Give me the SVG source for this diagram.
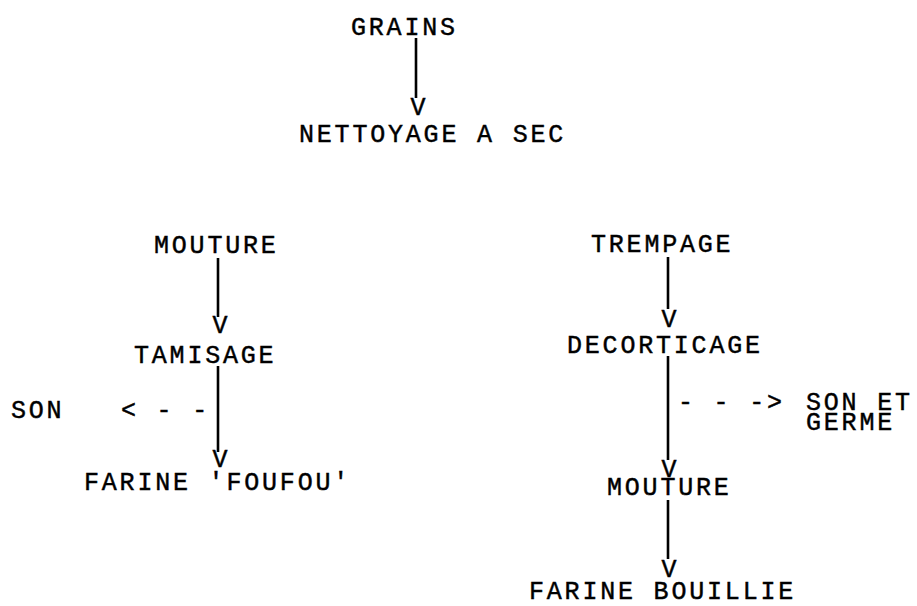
<svg xmlns="http://www.w3.org/2000/svg" width="917" height="606" viewBox="0 0 917 606">
<style>
text{font-family:"Liberation Mono","Courier New",monospace;font-size:25px;letter-spacing:2.8px;fill:#000;stroke:#000;stroke-width:0.45}
.v{text-anchor:middle;letter-spacing:0}
line{stroke:#000;stroke-width:2.6}
</style>
<rect width="917" height="606" fill="#fff"/>
<g id="connectors">
<line x1="416" y1="38" x2="416" y2="98"/>
<text class="v" x="418" y="115">V</text>
<line x1="218" y1="258" x2="218" y2="317"/>
<text class="v" x="220" y="333">V</text>
<line x1="218" y1="366" x2="218" y2="452"/>
<text class="v" x="220" y="467">V</text>
<text x="121" y="418">&lt; - -</text>
<line x1="668" y1="257" x2="668" y2="309"/>
<text class="v" x="669" y="327">V</text>
<line x1="668" y1="356" x2="668" y2="460"/>
<text class="v" x="669" y="477">V</text>
<text x="678" y="410">- - -&gt;</text>
<line x1="668" y1="500" x2="668" y2="559"/>
<text class="v" x="669" y="577">V</text>
</g>
<g id="grains"><text x="351" y="35">GRAINS</text></g>
<g id="nettoyage"><text x="299" y="142">NETTOYAGE A SEC</text></g>
<g id="mouture1"><text x="154" y="253">MOUTURE</text></g>
<g id="tamisage"><text x="134" y="363">TAMISAGE</text></g>
<g id="son"><text x="11" y="418">SON</text></g>
<g id="farine-foufou"><text x="84" y="490">FARINE 'FOUFOU'</text></g>
<g id="trempage"><text x="591" y="252">TREMPAGE</text></g>
<g id="decorticage"><text x="567" y="353">DECORTICAGE</text></g>
<g id="son-germe"><text x="806" y="410">SON ET</text><text x="806" y="430">GERME</text></g>
<g id="mouture2"><text x="607" y="495">MOUTURE</text></g>
<g id="farine-bouillie"><text x="529" y="599">FARINE BOUILLIE</text></g>
</svg>
